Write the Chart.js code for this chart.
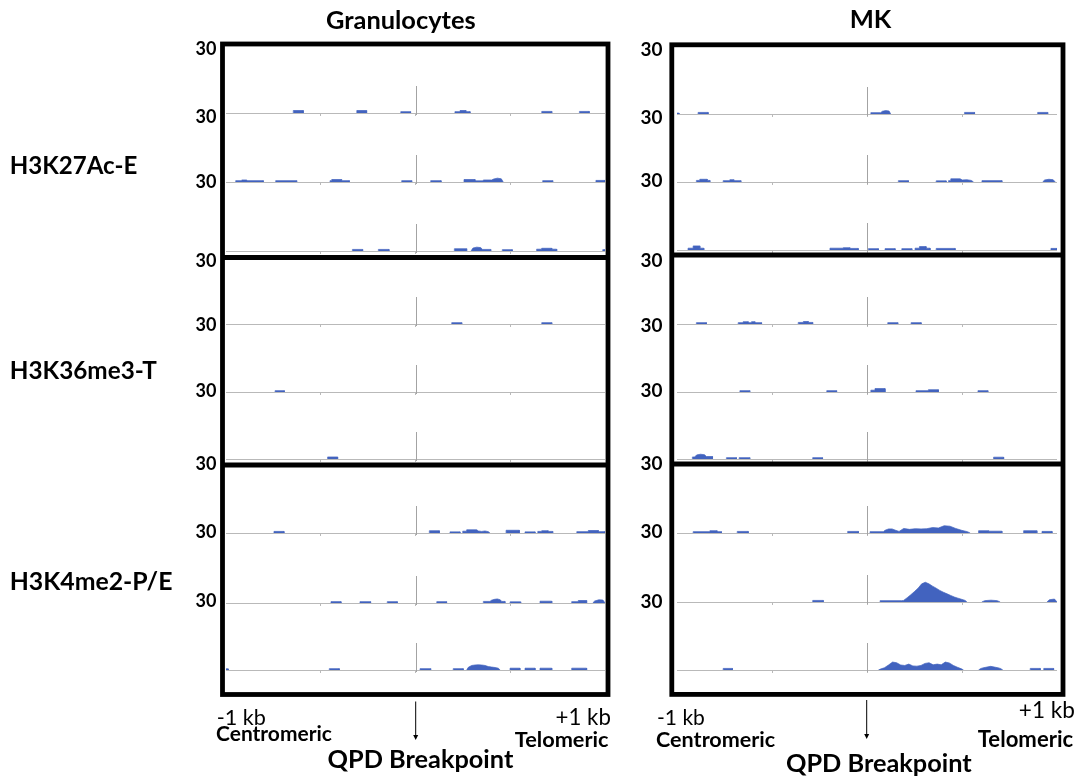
<!DOCTYPE html>
<html><head><meta charset="utf-8">
<script src="https://cdn.jsdelivr.net/npm/chart.js@4.4.0/dist/chart.umd.min.js"></script>
<style>
html,body{margin:0;padding:0;background:#fff;}
body{width:1077px;height:777px;overflow:hidden;position:relative;}
canvas.trk{position:absolute;}
#overlay{position:absolute;left:0;top:0;pointer-events:none;}
</style></head><body>
<svg id="overlay" width="1077" height="777" xmlns="http://www.w3.org/2000/svg"></svg>
<script>
// ---------------- DATA ----------------
const cellTypes = ['Granulocytes', 'MK'];
const marks = ['H3K27Ac-E', 'H3K36me3-T', 'H3K4me2-P/E'];
const scaleLabel = '30';
const yMax = 30;
const xMinBp = -1000, xMaxBp = 1000;
const tickBp = [-500, 0, 500];
const breakpointBp = 0;
const edgeLabels = ['-1 kb', '+1 kb'];
const sideLabels = ['Centromeric', 'Telomeric'];
const breakpointLabel = 'QPD Breakpoint';

// Signal features: [startBp, endBp, value] (flat) or [startBp, endBp, [profile values in equal steps]]
// Granulocytes
const granK27_1 = [[-645,-592,1.1],[-310,-258,1.1],[-78,-26,0.6],[208,235,0.6],[235,266,1.1],[266,288,0.6],[666,719,0.7],[865,917,0.7]];
const granK27_2 = [[-949,-917,0.6],[-917,-891,0.9],[-891,-803,0.6],[-738,-627,0.6],[-451,-442,0.6],[-442,-390,1.1],[-390,-349,0.6],[-73,-20,0.6],[80,135,0.6],[256,314,1.1],[314,358,0.5],[358,402,0.9],[402,463,[1.3,1.7,1.4]],[671,724,0.6],[952,1000,0.7]];
const granK27_3 = [[-333,-279,0.7],[-196,-140,0.7],[205,270,1.0],[293,354,[1.3,1.7,1.5]],[354,397,0.7],[458,511,0.6],[639,666,0.8],[666,719,1.2],[719,745,0.8],[988,1000,0.6]];
const granK36_1 = [[191,244,0.6],[666,719,0.6]];
const granK36_2 = [[-741,-692,0.6]];
const granK36_3 = [[-464,-411,0.9]];
const granK4_1 = [[-747,-694,0.7],[73,126,1.0],[182,235,0.5],[249,270,0.8],[270,323,1.4],[323,393,[0.9,0.7,0.9,0.6]],[478,548,1.2],[578,631,0.5],[645,666,0.7],[666,700,1.0],[700,724,0.7],[851,912,0.6],[912,965,1.1],[965,1000,0.6]];
const granK4_2 = [[-446,-393,0.6],[-293,-237,0.6],[-149,-96,0.6],[112,164,0.6],[358,393,0.7],[393,455,[1.2,1.6,1.8,1.4]],[455,472,0.7],[499,555,0.5],[657,719,0.8],[824,859,0.6],[859,903,1.1],[935,1000,[0.9,1.4,1.3]]];
const granK4_3 = [[-1000,-988,0.5],[-455,-402,0.6],[24,80,0.6],[199,252,0.6],[270,446,[1.2,2.0,2.2,2.3,2.2,2.0,1.5,1.3,1.1,0.8]],[499,551,0.8],[578,631,0.8],[657,719,0.8],[824,903,0.8]];
// MK
const mkK27_1 = [[-1000,-989,0.4],[-889,-836,0.7],[20,72,0.6],[72,125,[1.2,1.5,1.3]],[513,566,0.7],[898,951,0.7]];
const mkK27_2 = [[-898,-880,0.7],[-880,-841,1.2],[-841,-827,0.7],[-757,-722,0.6],[-722,-701,1.0],[-701,-664,0.6],[165,218,0.6],[364,417,0.5],[429,441,0.6],[441,490,1.4],[490,561,[0.9,1.0,0.7]],[605,710,0.6],[924,991,[0.9,1.2,1.0]]];
const mkK27_3 = [[-942,-915,0.8],[-915,-880,1.8],[-880,-859,0.8],[-195,-125,0.8],[-125,-90,1.0],[-90,-46,0.7],[7,60,0.6],[95,148,0.6],[183,236,0.6],[253,276,0.8],[276,311,1.5],[311,332,0.8],[364,464,0.7],[968,1000,0.7]];
const mkK36_1 = [[-898,-845,0.6],[-678,-652,0.6],[-652,-625,1.0],[-625,-608,0.6],[-608,-590,1.0],[-590,-555,0.6],[-362,-335,0.7],[-335,-309,1.1],[-309,-286,0.7],[109,162,0.6],[232,285,0.6]];
const mkK36_2 = [[-669,-617,0.6],[-212,-160,0.6],[20,42,0.8],[42,95,1.5],[258,323,0.6],[323,376,1.0],[584,636,0.6]];
const mkK36_3 = [[-919,-907,0.9],[-907,-845,[1.8,2.1,1.9]],[-845,-813,1.1],[-740,-687,0.6],[-673,-617,0.6],[-286,-234,0.6],[666,719,0.8]];
const mkK4_1 = [[-915,-827,0.6],[-827,-789,1.0],[-789,-766,0.6],[-683,-625,0.7],[-102,-45,0.7],[16,86,0.6],[86,178,[1.2,1.8,1.8,1.2,0.7]],[178,543,[2.0,1.6,1.9,1.8,1.9,2.4,2.2,3.2,3.0,2.0,1.2,0.6]],[587,640,1.0],[640,710,0.8],[824,894,1.0],[921,974,0.7]];
const mkK4_2 = [[-286,-230,0.7],[69,183,0.6],[183,526,[0.7,1.9,3.2,4.6,6.1,8.0,8.7,8.0,7.0,6.1,5.1,4.3,3.6,2.9,2.2,1.7,1.2,0.7]],[604,701,[0.6,0.8,0.6]],[947,1000,[1.0,1.3]]];
const mkK4_3 = [[-757,-708,0.7],[60,508,[0.4,1.0,2.2,3.5,3.2,2.2,2.0,2.6,1.8,1.7,2.0,2.9,3.2,2.3,2.6,2.3,3.5,3.1,2.0,1.2,0.5]],[587,715,[0.7,1.2,1.6,1.2,0.7]],[859,912,0.7],[930,982,0.7]];

const panelTracks = [
  [granK27_1, granK27_2, granK27_3, granK36_1, granK36_2, granK36_3, granK4_1, granK4_2, granK4_3],
  [mkK27_1, mkK27_2, mkK27_3, mkK36_1, mkK36_2, mkK36_3, mkK4_1, mkK4_2, mkK4_3]
];

// ---------------- LAYOUT (pixels) ----------------
const FONT = 'Lato, Carlito, "Open Sans", sans-serif';
const SIGNAL = '#4263bf';
const AXISGRAY = '#b9b9b9';
const TRACK_H = 68;
const geom = [
  { trackL: 226, trackR: 605,
    baselines: [113,182,251,324,392,459,533,603,670],
    box: {l:222.5, r:608, t:44, b:694.5, div:[257.5,465]},
    scaleX: [196,216], scaleBase: [55,123,188,266.5,330.5,396.5,470,538,606.5],
    title: {x:326.7, w:148.3, base:29.3},
    edge: [{x:218,w:47,base:725},{x:556.7,w:53.3,base:725}],
    side: [{x:216.7,w:115,base:741},{x:515,w:93.3,base:747.3}],
    bp: {x:328.3,w:185,base:768.3}, arrow:{x:415.7,y1:701.5,y2:740} },
  { trackL: 677, trackR: 1057,
    baselines: [114,182,250,324,392,459,533,602,670],
    box: {l:671.8, r:1063, t:44.8, b:694.4, div:[255,464]},
    scaleX: [641,662], scaleBase: [56,124,187.3,266.5,331.5,396.5,470,538.3,608.3],
    title: {x:851.7, w:40, base:28.3},
    edge: [{x:658.3,w:45.7,base:725},{x:1020,w:54,base:717.7}],
    side: [{x:656.7,w:118.3,base:747.3},{x:978,w:95,base:747.3}],
    bp: {x:786.7,w:185,base:771.7}, arrow:{x:866.7,y1:700,y2:739} }
];
const rowLabelGeom = [
  {x:11.7, w:125, base:174},
  {x:11.7, w:145, base:379},
  {x:11.7, w:160, base:590}
];

// ---------------- HELPERS ----------------
function toPoints(feats){
  const pts = [{x:xMinBp, y:0}];
  feats.forEach(([s,e,v]) => {
    const last = pts[pts.length-1];
    if (last.closing && last.x === s) pts.pop(); else pts.push({x:s, y:0});
    if (Array.isArray(v)) {
      const step = (e - s) / v.length;
      v.forEach((val,i) => pts.push({x:s+(i+0.5)*step, y:val}));
    } else {
      pts.push({x:s, y:v}); pts.push({x:e, y:v});
    }
    pts.push({x:e, y:0, closing:true});
  });
  pts.push({x:xMaxBp, y:0});
  return pts;
}

const breakpointPlugin = {
  id: 'breakpoint',
  afterDraw(chart){
    const xs = chart.scales.x, ca = chart.chartArea, ctx = chart.ctx;
    const px = Math.round(xs.getPixelForValue(breakpointBp)) + 0.5;
    ctx.save();
    ctx.strokeStyle = '#a3a3a3'; ctx.lineWidth = 1;
    ctx.beginPath(); ctx.moveTo(px, ca.bottom + 2); ctx.lineTo(px, ca.bottom - 27); ctx.stroke();
    ctx.restore();
  }
};

function makeTrack(feats, left, width, baseline){
  const cv = document.createElement('canvas');
  cv.className = 'trk';
  const h = TRACK_H + 3;
  cv.width = width; cv.height = h;
  cv.style.left = left + 'px'; cv.style.top = (baseline - TRACK_H) + 'px';
  cv.style.width = width + 'px'; cv.style.height = h + 'px';
  document.body.insertBefore(cv, document.getElementById('overlay'));
  new Chart(cv, {
    type: 'line',
    data: { datasets: [{
      data: toPoints(feats),
      borderColor: SIGNAL, backgroundColor: SIGNAL,
      borderWidth: 0.7, pointRadius: 0, fill: 'origin', tension: 0,
      segment: { borderColor: c => (c.p0.parsed.y === 0 && c.p1.parsed.y === 0) ? 'rgba(0,0,0,0)' : undefined }
    }]},
    options: {
      responsive: false, animation: false, events: [], devicePixelRatio: 1,
      layout: { padding: 0 },
      plugins: { legend: {display:false}, tooltip: {enabled:false}, title:{display:false} },
      scales: {
        x: { type: 'linear', min: xMinBp, max: xMaxBp,
             afterBuildTicks: s => { s.ticks = tickBp.map(v => ({value: v})); },
             ticks: { display: false },
             grid: { display: true, drawOnChartArea: false, drawTicks: true, tickLength: 3, color: AXISGRAY },
             border: { display: true, color: AXISGRAY, width: 1 } },
        y: { display: false, min: 0, max: yMax }
      }
    },
    plugins: [breakpointPlugin]
  });
}

const svg = document.getElementById('overlay');
const NS = 'http://www.w3.org/2000/svg';
const mctx = document.createElement('canvas').getContext('2d');
function addText(text, x, w, base, weight){
  mctx.font = `${weight} 100px ${FONT}`;
  const m = mctx.measureText(text);
  const ink = m.actualBoundingBoxRight + m.actualBoundingBoxLeft;
  const size = 100 * w / ink;
  const t = document.createElementNS(NS, 'text');
  t.setAttribute('x', x + m.actualBoundingBoxLeft * size / 100);
  t.setAttribute('y', base);
  t.setAttribute('font-size', size.toFixed(2));
  t.setAttribute('font-weight', weight);
  t.setAttribute('font-family', FONT);
  t.setAttribute('fill', '#000');
  t.textContent = text;
  svg.appendChild(t);
}
function addLine(x1,y1,x2,y2,w,col){
  const l = document.createElementNS(NS,'line');
  l.setAttribute('x1',x1); l.setAttribute('y1',y1); l.setAttribute('x2',x2); l.setAttribute('y2',y2);
  l.setAttribute('stroke',col); l.setAttribute('stroke-width',w);
  svg.appendChild(l);
}

// ---------------- BUILD ----------------
geom.forEach((g, p) => {
  const w = g.trackR - g.trackL;
  panelTracks[p].forEach((feats, i) => makeTrack(feats, g.trackL, w, g.baselines[i]));
  const b = g.box, BW = 4.8;
  const r = document.createElementNS(NS,'rect');
  r.setAttribute('x', b.l); r.setAttribute('y', b.t); r.setAttribute('width', b.r - b.l); r.setAttribute('height', b.b - b.t);
  r.setAttribute('fill','none'); r.setAttribute('stroke','#000'); r.setAttribute('stroke-width', BW);
  svg.appendChild(r);
  b.div.forEach(y => addLine(b.l, y, b.r, y, BW, '#000'));
  g.scaleBase.forEach(y => addText(scaleLabel, g.scaleX[0], g.scaleX[1]-g.scaleX[0], y, 'bold'));
  addText(cellTypes[p], g.title.x, g.title.w, g.title.base, 'bold');
  g.edge.forEach((e,i) => addText(edgeLabels[i], e.x, e.w, e.base, 'normal'));
  g.side.forEach((e,i) => addText(sideLabels[i], e.x, e.w, e.base, 'bold'));
  addText(breakpointLabel, g.bp.x, g.bp.w, g.bp.base, 'bold');
  addLine(g.arrow.x, g.arrow.y1, g.arrow.x, g.arrow.y2 - 3, 1, '#000');
  const a = document.createElementNS(NS,'path');
  a.setAttribute('d', `M${g.arrow.x-2.5},${g.arrow.y2-5} L${g.arrow.x+2.5},${g.arrow.y2-5} L${g.arrow.x},${g.arrow.y2} Z`);
  a.setAttribute('fill','#000');
  svg.appendChild(a);
});
marks.forEach((m,i) => addText(m, rowLabelGeom[i].x, rowLabelGeom[i].w, rowLabelGeom[i].base, 'bold'));
</script>
</body></html>
